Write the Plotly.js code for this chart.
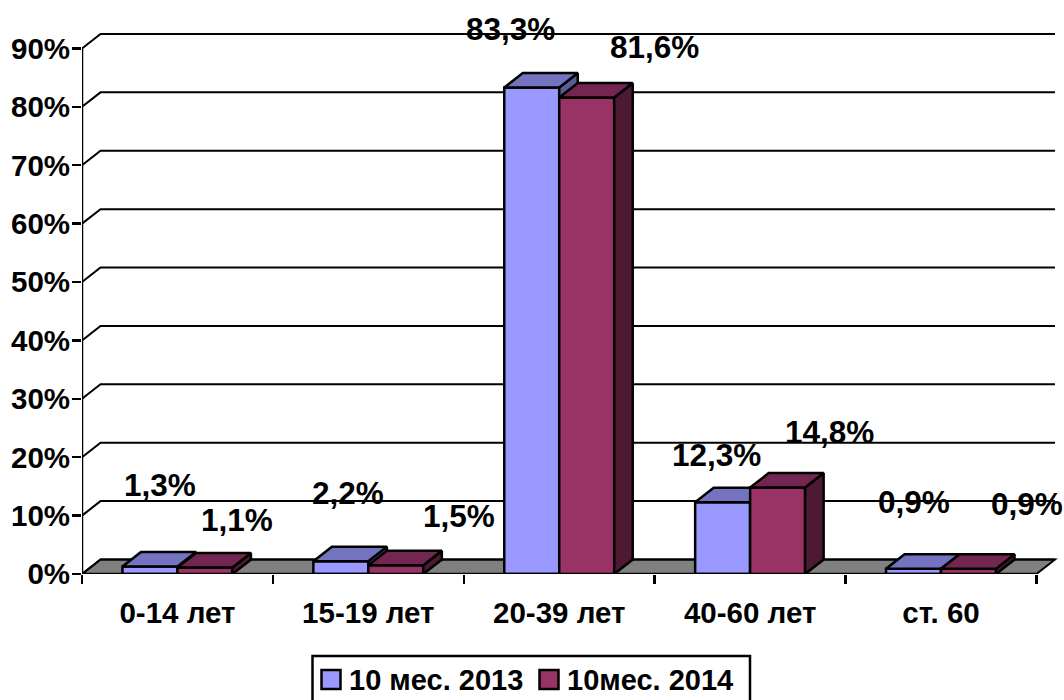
<!DOCTYPE html>
<html><head><meta charset="utf-8">
<script src="https://cdn.plot.ly/plotly-3.0.1.min.js"></script>
<style>html,body{margin:0;padding:0;background:#fff}</style></head>
<body><div id="chart" style="width:1064px;height:700px"></div>
<script>
const categories = ['0-14 лет','15-19 лет','20-39 лет','40-60 лет','ст. 60'];
const seriesNames = ['10 мес. 2013','10мес. 2014'];
const values2013 = [1.3,2.2,83.3,12.3,0.9];
const values2014 = [1.1,1.5,81.6,14.8,0.9];
const percentTicks = [0,10,20,30,40,50,60,70,80,90];

// label placement (pixels from the top-centre of each bar)
const labelDx2013 = [10,7,-21,-6,0], labelDy2013 = [81,68,59,47,67];
const labelDx2014 = [32,63,68,52,58], labelDy2014 = [48,49,50,56,65];

const BW = 0.288, DX = 0.097, DY = 2.48, XMAX = 5.118, YMAX = 93.5;
const INK = '#000', COL1 = '#9999FF', COL2 = '#993366';
const FONT = 'Liberation Sans, Arial, sans-serif';
const n = categories.length;
const M = {l:82, r:5, t:28, b:126}, W = 1064, H = 700;
const px = p => (p - M.l) / (W - M.l - M.r);
const py = p => (H - M.b - p) / (H - M.t - M.b);

const centre = (i, s) => i + 0.5 + (s === 0 ? -BW/2 : BW/2);

function depthFaces(vals, s, xa, ya, topCol, sideCol) {
  const tx = [], ty = [], sx = [], sy = [];
  vals.forEach((v, i) => {
    const l = centre(i, s) - BW/2, r = centre(i, s) + BW/2;
    tx.push(l, l+DX, r+DX, r, l, null);
    ty.push(v, v+DY, v+DY, v, v, null);
    sx.push(r, r+DX, r+DX, r, r, null);
    sy.push(0, DY, v+DY, v, 0, null);
  });
  const base = {mode:'lines', fill:'toself', line:{color:INK, width:2.5}, xaxis:xa, yaxis:ya,
                showlegend:false, hoverinfo:'skip', cliponaxis:false};
  return [Object.assign({x:sx, y:sy, fillcolor:sideCol}, base),
          Object.assign({x:tx, y:ty, fillcolor:topCol}, base)];
}
function front(vals, s, xa, ya, col, name) {
  return {type:'bar', name:name, x:vals.map((_, i) => centre(i, s)), y:vals, width:BW, xaxis:xa, yaxis:ya,
          marker:{color:col, line:{color:INK, width:2.5}}, showlegend:false, hoverinfo:'skip', cliponaxis:false};
}

const axesLines = {mode:'lines', x:[0,0,null,0,n], y:[percentTicks[9],0,null,0,0], line:{color:INK,width:2.5},
                   showlegend:false, hoverinfo:'skip', cliponaxis:false};

const traces = [
  front(values2013,0,'x','y',COL1,seriesNames[0]),
  ...depthFaces(values2013,0,'x','y','#7373BF','#5C5C99'),
  axesLines,
  front(values2014,1,'x2','y2',COL2,seriesNames[1]),
  ...depthFaces(values2014,1,'x2','y2','#732650','#4D1933')
];

const shapes = [{type:'path', layer:'below', xref:'x', yref:'y',
  path:`M0,0 L${DX},${DY} L${n+DX},${DY} L${n},0 Z`, fillcolor:'#808080', line:{color:INK,width:2}}];
percentTicks.forEach(t => {
  shapes.push({type:'path', layer:'below', xref:'x', yref:'y',
    path:`M0,${t} L${DX},${t+DY} L${n+DX},${t+DY}`, line:{color:INK,width:2}});
});

const annotations = [];
function addLabels(vals, s, dxs, dys) {
  vals.forEach((v, i) => annotations.push({
    x:centre(i,s), y:v, xref:'x', yref:'y', showarrow:false, xshift:dxs[i], yshift:dys[i],
    text:v.toFixed(1).replace('.',',')+'%', font:{family:FONT,size:31.5,color:INK,weight:700}
  }));
}
addLabels(values2013,0,labelDx2013,labelDy2013);
addLabels(values2014,1,labelDx2014,labelDy2014);

// legend box: runs off the bottom of the page, as in the reference
shapes.push({type:'rect', xref:'paper', yref:'paper', layer:'above', x0:px(312.5), x1:px(750), y0:py(712), y1:py(656),
  fillcolor:'#fff', line:{color:INK,width:2.5}});
[[321.5,COL1,347,seriesNames[0]],[539.5,COL2,565,seriesNames[1]]].forEach(([sw,col,tx,name]) => {
  shapes.push({type:'rect', xref:'paper', yref:'paper', layer:'above', x0:px(sw), x1:px(sw+19), y0:py(689), y1:py(670),
    fillcolor:col, line:{color:INK,width:2.5}});
  annotations.push({x:px(tx), y:py(680), xref:'paper', yref:'paper', xanchor:'left', yanchor:'middle', showarrow:false,
    text:name, font:{family:FONT,size:29,color:INK,weight:700}});
});

const layout = {
  width:W, height:H, paper_bgcolor:'#fff', plot_bgcolor:'#fff',
  margin:M, barmode:'overlay', showlegend:false, hovermode:false,
  font:{family:FONT,color:INK},
  xaxis:{range:[0,XMAX], showgrid:false, zeroline:false, showline:false,
    tickmode:'array', tickvals:categories.map((_,i)=>i+0.5), ticktext:categories, ticks:'', ticklen:0,
    ticklabelstandoff:18, tickangle:0,
    tickfont:{family:FONT,size:29.5,color:INK,weight:700},
    minor:{tickmode:'array', tickvals:Array.from({length:n+1},(_,i)=>i), ticks:'outside', ticklen:9, tickwidth:2.5, tickcolor:INK, showgrid:false}},
  yaxis:{range:[0,YMAX], showgrid:false, zeroline:false, showline:false,
    tickmode:'array', tickvals:percentTicks, ticktext:percentTicks.map(t=>t+'%'),
    ticks:'outside', ticklen:9, tickwidth:2.5, tickcolor:INK, ticklabelstandoff:-4,
    tickfont:{family:FONT,size:29.5,color:INK,weight:700}},
  xaxis2:{range:[0,XMAX], overlaying:'x', visible:false},
  yaxis2:{range:[0,YMAX], overlaying:'y', visible:false},
  shapes, annotations
};
Plotly.newPlot('chart', traces, layout, {displayModeBar:false, staticPlot:true});
</script></body></html>
